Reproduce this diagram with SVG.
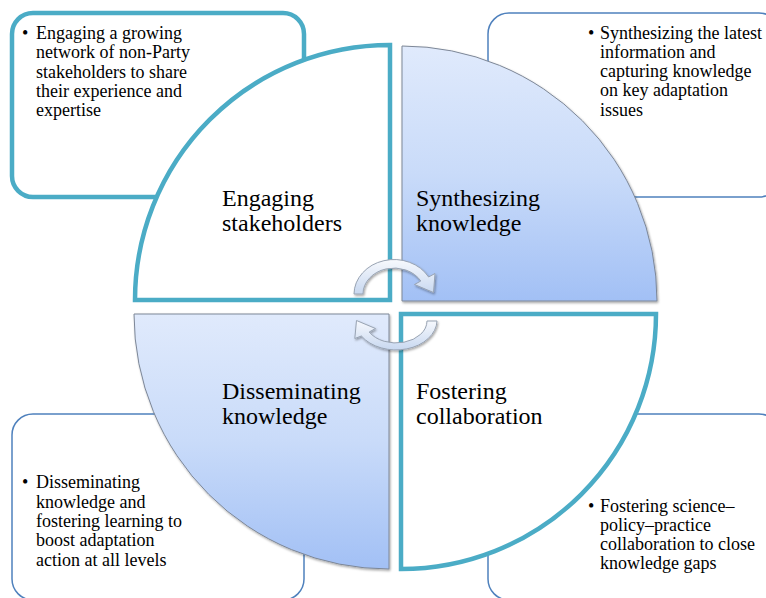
<svg xmlns="http://www.w3.org/2000/svg" width="766" height="598" viewBox="0 0 766 598">
<defs>
<linearGradient id="blueGrad" x1="0" y1="0" x2="0" y2="1">
<stop offset="0" stop-color="#e0eafc"/>
<stop offset="0.5" stop-color="#c9dbf9"/>
<stop offset="1" stop-color="#a2c0f5"/>
</linearGradient>
<linearGradient id="arrowGrad" x1="0" y1="0" x2="0" y2="1">
<stop offset="0" stop-color="#f7f9fd"/>
<stop offset="1" stop-color="#c8d8f0"/>
</linearGradient>
<filter id="shadow" x="-10%" y="-10%" width="130%" height="130%">
<feDropShadow dx="1" dy="1.5" stdDeviation="1.2" flood-color="#000" flood-opacity="0.35"/>
</filter>
</defs>
<style>
.tealBox{fill:#fff;stroke:#4bacc6;stroke-width:4.5}
.blueBox{fill:#fff;stroke:#4f81bd;stroke-width:1.5}
.quadW{fill:#fff;stroke:#4bacc6;stroke-width:4.5;stroke-linejoin:miter}
.quadB{fill:url(#blueGrad);stroke:#7d8797;stroke-width:1;filter:url(#shadow)}
.arrow{fill:url(#arrowGrad);stroke:#98a3b3;stroke-width:1;filter:url(#shadow)}
.bul{font-family:"Liberation Serif","Times New Roman",serif;font-size:18px;fill:#000}
.lbl{font-family:"Liberation Serif","Times New Roman",serif;font-size:24px;fill:#000}
</style>

<g id="box-engaging">
<rect class="tealBox" x="12" y="13" width="292" height="184" rx="21"/>
<text class="bul"><tspan x="22" y="39">•</tspan><tspan x="36" y="39">Engaging a growing</tspan><tspan x="36" y="58.3">network of non-Party</tspan><tspan x="36" y="77.6">stakeholders to share</tspan><tspan x="36" y="96.9">their experience and</tspan><tspan x="36" y="116.2">expertise</tspan></text>
</g>
<g id="box-synthesizing">
<rect class="blueBox" x="488" y="13" width="292" height="184" rx="21"/>
<text class="bul"><tspan x="588" y="38.5">•</tspan><tspan x="600" y="38.5">Synthesizing the latest</tspan><tspan x="600" y="57.8">information and</tspan><tspan x="600" y="77.1">capturing knowledge</tspan><tspan x="600" y="96.4">on key adaptation</tspan><tspan x="600" y="115.7">issues</tspan></text>
</g>
<g id="box-disseminating">
<rect class="blueBox" x="12" y="414" width="292" height="186" rx="21"/>
<text class="bul"><tspan x="22" y="488.3">•</tspan><tspan x="36" y="488.3">Disseminating</tspan><tspan x="36" y="507.6">knowledge and</tspan><tspan x="36" y="526.9">fostering learning to</tspan><tspan x="36" y="546.2">boost adaptation</tspan><tspan x="36" y="565.5">action at all levels</tspan></text>
</g>
<g id="box-fostering">
<rect class="blueBox" x="488" y="414" width="292" height="186" rx="21"/>
<text class="bul"><tspan x="588" y="511.7">•</tspan><tspan x="600" y="511.7">Fostering science–</tspan><tspan x="600" y="530.8">policy–practice</tspan><tspan x="600" y="549.9">collaboration to close</tspan><tspan x="600" y="569">knowledge gaps</tspan></text>
</g>

<g id="quad-engaging">
<path class="quadW" d="M390 300 L135 300 A255 255 0 0 1 390 45 Z"/>
<text class="lbl"><tspan x="222" y="206">Engaging</tspan><tspan x="222" y="231">stakeholders</tspan></text>
</g>
<g id="quad-synthesizing">
<path class="quadB" d="M402 301 L402 46 A255 255 0 0 1 657 301 Z"/>
<text class="lbl"><tspan x="416" y="206">Synthesizing</tspan><tspan x="416" y="231">knowledge</tspan></text>
</g>
<g id="quad-disseminating">
<path class="quadB" d="M389 314 L389 569 A255 255 0 0 1 134 314 Z"/>
<text class="lbl"><tspan x="222" y="399">Disseminating</tspan><tspan x="222" y="424">knowledge</tspan></text>
</g>
<g id="quad-fostering">
<path class="quadW" d="M401 314 L656 314 A255 255 0 0 1 401 569 Z"/>
<text class="lbl"><tspan x="416" y="399">Fostering</tspan><tspan x="416" y="424">collaboration</tspan></text>
</g>

<g id="connectors">
<path class="arrow" d="M354 294 A40 35 0 0 1 428.6 277 L435 273.5 L433.5 292.5 L414.5 284.5 L420.8 281 A31 26 0 0 0 363 294 Z"/>
<path class="arrow" d="M437 321 A41 30 0 0 1 361.4 336 L354.8 338.5 L356.5 320.5 L375.5 328.5 L369.2 332 A31 22 0 0 0 427 321 Z"/>
</g>
</svg>
